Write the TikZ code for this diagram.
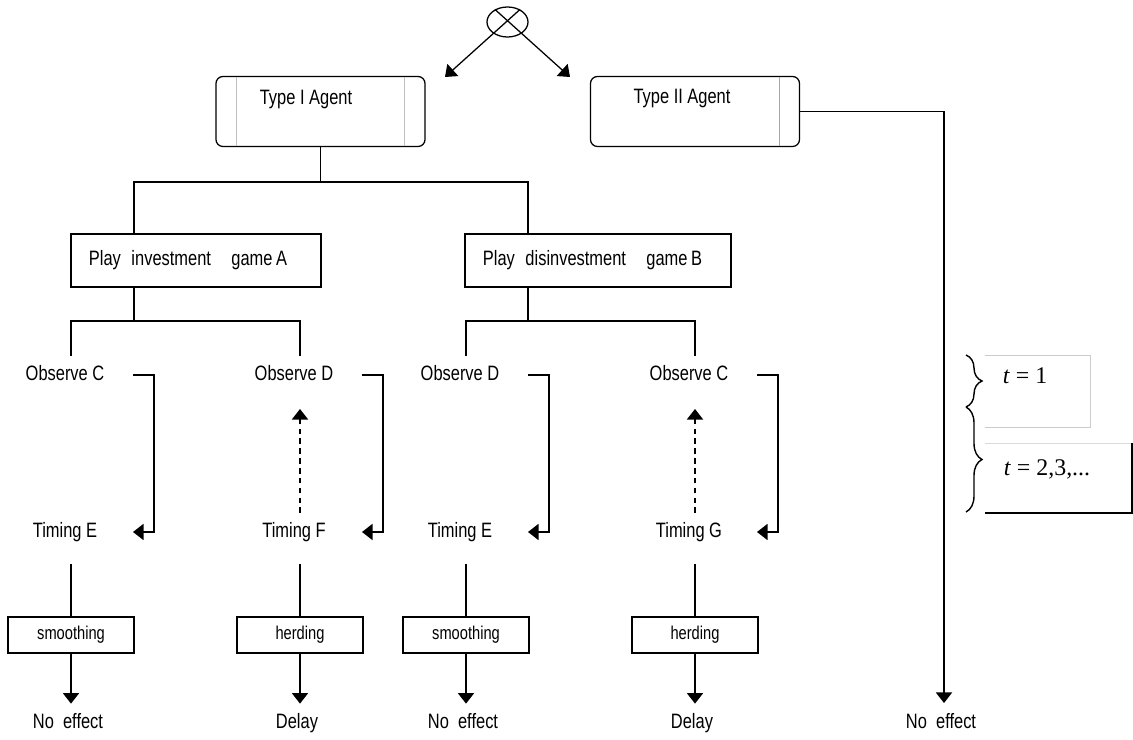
\documentclass[tikz,border=0pt]{standalone}
\usepackage{fontspec}
\setmainfont{Liberation Sans}[FakeStretch=0.79]
\newfontfamily\tfont{Liberation Serif}
\usetikzlibrary{arrows.meta, positioning, shapes.geometric, decorations.pathreplacing}

\begin{document}
\begin{tikzpicture}[x=0.025cm, y=-0.025cm, line width=0.9pt, font=\fontsize{14.8}{17}\selectfont,
    agent/.style={draw, rounded corners=5pt, minimum width=5.225cm, minimum height=1.75cm},
    game/.style={draw, rectangle, minimum height=1.325cm, inner xsep=0.45cm, align=left},
    effbox/.style={draw, rectangle, minimum width=3.15cm, minimum height=0.9cm, font=\fontsize{13.2}{15}\selectfont},
    lbl/.style={inner sep=1pt, text height=10.5pt, text depth=3pt},
    arr/.style={-{Triangle[width=11.5pt,length=7.5pt]}}]
    \useasboundingbox (0,0) rectangle (1133,740);
    % 起点
    \node[draw, ellipse, minimum width=1.025cm, minimum height=0.75cm, inner sep=0pt] (chance) at (507.5,22) {};
    \coordinate (tipL) at (445,77);
    \coordinate (tipR) at (570,77);
    \draw[arr] (chance.45) -- (tipL);
    \draw[arr] (chance.135) -- (tipR);
    % 两类代理
    \node[agent] (T1) at (320.5,111.5) {};
    \node[agent] (T2) at (695,111.5) {};
    \draw[gray!50, line width=0.6pt, shorten <=0.9pt, shorten >=0.9pt] ([xshift=0.525cm]T1.north west) -- ([xshift=0.525cm]T1.south west);
    \draw[gray!50, line width=0.6pt, shorten <=0.9pt, shorten >=0.9pt] ([xshift=-0.525cm]T1.north east) -- ([xshift=-0.525cm]T1.south east);
    \draw[gray!70, line width=0.6pt, shorten <=0.9pt, shorten >=0.9pt] ([xshift=-0.525cm]T2.north east) -- ([xshift=-0.525cm]T2.south east);
    \node[lbl] (T1txt) at (306,99) {Type I Agent};
    \node[lbl] (T2txt) at (682,98) {Type II Agent};
    % 博弈 A, B
    \node[game, text width=5.35cm] (PA) at (196,260.5) {Play\hspace{7.5pt}investment\hspace{14.5pt}game\hspace{2.5pt}A};
    \node[game, text width=5.75cm] (PB) at (598,260.5) {Play\hspace{7.5pt}disinvestment\hspace{14.5pt}game\hspace{2.5pt}B};
    \coordinate (fA) at (134,182);
    \coordinate (fB) at (528,182);
    \draw (T1.south) -- (T1.south |- fA);
    \draw (PA.north -| fA) -- (fA) -- (fB) -- (PB.north -| fB);
    % 分支
    \coordinate (sA) at (134,321);
    \coordinate (sB) at (528,321);
    \foreach \c [count=\i] in {71,300,466,695} {
        \coordinate (col\i) at (\c,356);
    }
    \draw (PA.south -| sA) -- (sA);
    \draw (PB.south -| sB) -- (sB);
    \draw (col1) |- (sA) -| (col2);
    \draw (col3) |- (sB) -| (col4);
    % 观察, 时机, 结果
    \foreach \c/\o/\m/\e/\r [count=\i] in {71/C/E/smoothing/No~~effect, 300/D/F/herding/Delay, 466/D/E/smoothing/No~~effect, 695/C/G/herding/Delay} {
        \node[lbl] (O\i) at (\c-6,375) {Observe \o};
        \node[lbl] (M\i) at (\c-6,532) {Timing \m};
        \node[effbox] (E\i) at (\c,635) {\e};
        \node[lbl] (R\i) at (\c-3,723) {\r};
        \draw[arr] ([xshift=1.7cm]O\i.center) -- ++(21,0) |- ([xshift=1.7cm]M\i.center);
        \draw (E\i.north) -- ++(0,-52);
        \draw[arr] (E\i.south) -- ++(0,50);
    }
    \foreach \i in {2,4} {
        \draw[arr, dash pattern=on 4pt off 3pt] ([xshift=0.15cm,yshift=0.475cm]M\i.center) -- ([xshift=0.15cm,yshift=-0.85cm]O\i.center);
    }
    % 第二类
    \node[lbl] (R5) at (941,723) {No~~effect};
    \draw[arr] (T2.east) -| ([xshift=0.075cm,yshift=0.5cm]R5.center);
    % 时期
    \draw[decorate, decoration={brace, amplitude=0.4cm}, line width=1pt] (966,355) -- (966,407);
    \draw[decorate, decoration={brace, amplitude=0.4cm}, line width=1pt] (966,407) -- (966,512);
    \draw[gray!40, line width=0.6pt] (985,355) -- (1090,355) -- (1090,427) -- (985,427);
    \draw[gray!30, line width=0.6pt] (985,443) -- (1132,443);
    \draw (1132,443) -- (1132,513) -- (985,513);
    \node[lbl, font=\tfont\fontsize{17}{20}\selectfont] (t1) at (1025,378) {\textit{t} = 1};
    \node[lbl, font=\tfont\fontsize{17}{20}\selectfont] (t2) at (1047,470) {\textit{t} = 2,3,...};
\end{tikzpicture}
\end{document}
